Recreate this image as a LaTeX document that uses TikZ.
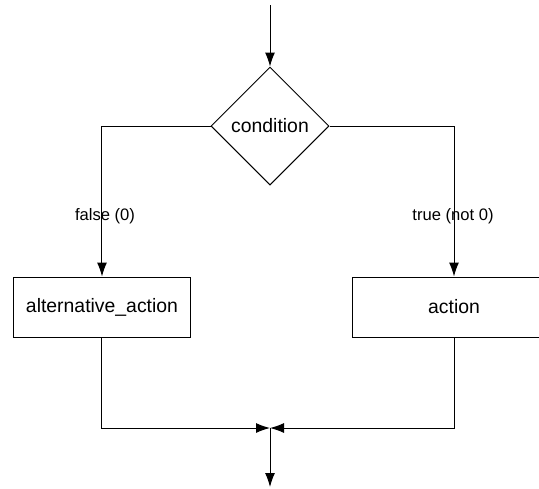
\documentclass[tikz,border=0pt]{standalone}
\usepackage{fontspec}
\setmainfont{Liberation Sans}
\usetikzlibrary{arrows.meta,positioning,shapes.geometric}

\begin{document}
\begin{tikzpicture}[>={Latex[length=7pt,width=5pt]},line width=0.5pt,on grid,
	box/.style={draw,rectangle,minimum height=30pt,inner sep=0pt,font=\fontsize{9.7}{11}\selectfont},
	test/.style={draw,diamond,minimum width=59pt,minimum height=59pt,inner sep=0pt,font=\fontsize{9.7}{11}\selectfont},
	lbl/.style={font=\fontsize{8.3}{10}\selectfont},
	hv/.style={to path={-| (\tikztotarget) \tikztonodes}},
	vh/.style={to path={|- (\tikztotarget) \tikztonodes}}]
	\clip (-135pt,63pt) rectangle (134.5pt,-181pt);
	\node[test] (cond) at (0,0) {condition};
	\node[box,minimum width=88pt] (alt) [below left=90.5pt and 84pt of cond] {alternative\_action};
	\node[box,minimum width=102pt] (act) [below right=90.5pt and 92pt of cond] {action};
	\coordinate[above=60.5pt of cond] (in);
	\coordinate[below=151pt of cond] (join);
	\coordinate[below=29.5pt of join] (out);

	\path[->] (in) edge (cond.north)
	(cond.west) edge[hv] node[lbl,pos=0.8,xshift=1.5pt] {false (0)} (alt.north)
	(cond.east) edge[hv] node[lbl,pos=0.8,xshift=-0.5pt] {true (not 0)} (act.north)
	(alt.south) edge[vh] (join)
	(act.south) edge[vh] (join)
	(join) edge (out)
	;
\end{tikzpicture}
\end{document}
